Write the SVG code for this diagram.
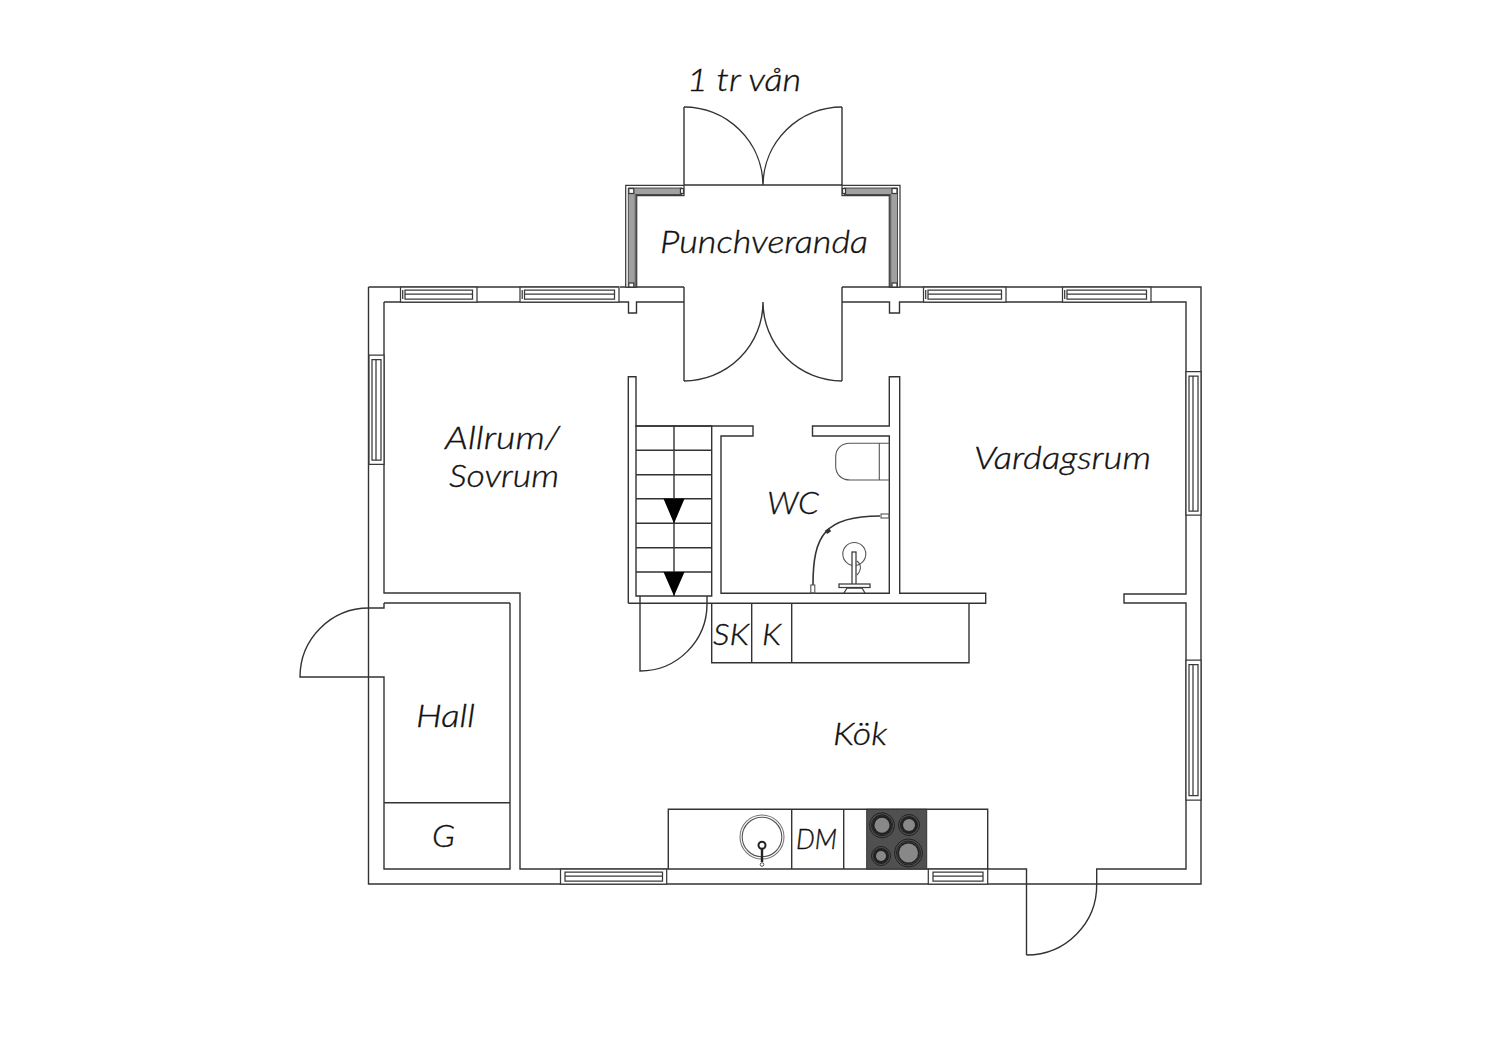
<svg xmlns="http://www.w3.org/2000/svg" width="1500" height="1060" viewBox="0 0 1500 1060">
<defs>
<style>
.l{fill:none;stroke:#333;stroke-width:1.4}
.w{fill:#fff;stroke:#3a3a3a;stroke-width:1.25}
.t{fill:none;stroke:#555;stroke-width:1.1}
.g{fill:#a0a0a0;stroke:#3a3a3a;stroke-width:.9}
text{font-family:"Lato","Liberation Sans",sans-serif;font-style:italic;font-weight:300;font-size:32px;fill:#111;stroke:#111;stroke-width:.35}
</style>
</defs>
<rect width="1500" height="1060" fill="#fff"/>
<g id="walls">
<path class="l" d="M368.500 287H619M368.500 287V884H1201V287H842M384 302V593H520V869H1026.500V955M384 603V608H369M384 302H628.500V313H636.500V302H684M842 302H889.500V313H899.500V302H1186V594H1124V603H1186V869H1096.700V884M510 603H384M510 603V869H384V677H369M384 802.700H510M684 287V381M842 287V381M684 107V185M842 107V185M684 185H842M620 287H684"/>
<path class="l" d="M628.300 603.300V376.700H636V426H753V436H721V593.300H889.300V436H812.500V426H889.300V376.700H899.700V593.300H985.700V603.300H628.300"/>
</g>
<g id="doors">
<path class="l" d="M684 107A79 79 0 0 1 763 185M842 107A79 79 0 0 0 763 185"/>
<path class="l" d="M684 381A79 79 0 0 0 763 302M842 381A79 79 0 0 1 763 302"/>
<path class="l" d="M640 596V671A67 67 0 0 0 707 604V596"/>
<path class="l" d="M369 608A69 69 0 0 0 300 677H369"/>
<path class="l" d="M1026.500 955A70 70 0 0 0 1096.700 884"/>
</g>
<g id="windows-top">
<path class="w" d="M400.500 287H477V302H400.500ZM405 290H472.500V299H405ZM405 294H472.500M402.700 290V299"/>
<path class="w" d="M520 287H619V302H520ZM524.500 290H614.500V299H524.500ZM524.500 294H614.500M522.200 290V299"/>
<path class="w" d="M923.500 287H1006V302H923.500ZM928 290H1001.500V299H928ZM928 294H1001.500M925.700 290V299"/>
<path class="w" d="M1062.500 287H1151V302H1062.500ZM1067 290H1146.500V299H1067ZM1067 294H1146.500M1064.700 290V299"/>
</g>
<g id="windows-side">
<path class="w" d="M369 355H384V464.300H369ZM372 359.500H381V460H372ZM376 359.500V460"/>
<path class="w" d="M1186 371.700H1201V515H1186ZM1189 376H1198V511H1189ZM1193 376V511"/>
<path class="w" d="M1186 660H1201V800H1186ZM1189 664.500H1198V795.500H1189ZM1193 664.500V795.500"/>
</g>
<g id="windows-bottom">
<path class="w" d="M560.500 869H666.700V884H560.500ZM565 872H662.500V881H565ZM565 876H662.500"/>
<path class="w" d="M928.300 869H987.700V884H928.300ZM933 872H983V881H933ZM933 876H983"/>
</g>
<g id="veranda-windows">
<path class="w" d="M625.700 287V185.300H684V195.700H636.700V287Z"/>
<path class="g" d="M628.300 287V188H682V194.500H635.300V287Z"/>
<path class="w" d="M900 287V185.300H842V195.700H889.300V287Z"/>
<path class="g" d="M897.500 287V188H844V194.500H890.700V287Z"/>
<rect class="w" x="628.800" y="188.500" width="5" height="5"/>
<rect class="w" x="892" y="188.500" width="5" height="5"/>
<rect class="w" x="680.500" y="188.500" width="3" height="5"/>
<rect class="w" x="842.500" y="188.500" width="3" height="5"/>
<rect class="w" x="628.800" y="283" width="5" height="4"/>
<rect class="w" x="892" y="283" width="5" height="4"/>
</g>
<g id="stairs">
<path class="l" d="M636 426H711.700V596H636ZM636 450.300H711.700M636 474.700H711.700M636 498.700H711.700M636 523.300H711.700M636 547.700H711.700M636 572H711.700M674 426V596"/>
<path fill="#000" d="M663.500 498.700H684.500L674 523.500ZM663.500 572H684.500L674 596Z"/>
</g>
<g id="toilet">
<path class="t" d="M889.300 443.300H850C841 443.300 835.700 449 835.700 457V466C835.700 474 841 480 850 480H889.300M879.300 443.300V480"/>
</g>
<g id="wc-fixtures">
<path fill="none" stroke="#333" stroke-width="1.600" d="M813 585C813 535 825 516 880 516"/>
<rect class="t" x="810.800" y="585" width="4" height="8"/>
<rect class="t" x="881" y="514" width="8" height="4"/>
<rect fill="#333" x="825.500" y="529" width="5" height="4" transform="rotate(-35 828 531)"/>
<circle class="t" cx="854.300" cy="554" r="11.500"/>
<path class="t" d="M857 561C863 566 860 572 857 575"/>
<rect class="w" x="852" y="552" width="4" height="37"/>
<rect class="w" x="839" y="584" width="31" height="3.500"/>
<path class="w" d="M844 593L847 588H862L865 593Z"/>
</g>
<g id="cabinets">
<path class="l" d="M711.700 603.300V662.700H969V603.300M751.700 603.300V662.700M791.700 603.300V662.700"/>
<path class="l" d="M668.300 869V809.300H987.700V869M791.700 809.300V869M843.700 809.300V869"/>
</g>
<g id="sink">
<circle fill="none" stroke="#777" stroke-width="1.100" cx="762" cy="837" r="22"/>
<circle fill="none" stroke="#555" stroke-width="1.100" cx="762" cy="837" r="19.800"/>
<circle fill="#fff" stroke="#222" stroke-width="2" cx="762" cy="845.300" r="3.500"/>
<rect fill="#222" x="760.800" y="849" width="2.400" height="13"/>
<circle fill="#fff" stroke="#555" cx="762" cy="864.500" r="1.800"/>
</g>
<g id="hob">
<rect x="866.700" y="809.300" width="60" height="59.700" fill="#505050" stroke="#333"/>
<g fill="none" stroke="#222">
<circle cx="882" cy="825.300" r="12.500"/><circle cx="909" cy="825" r="10.500"/><circle cx="881" cy="856" r="9.500"/><circle cx="908.500" cy="853" r="14"/><circle cx="908.500" cy="853" r="12"/><circle cx="882" cy="825.300" r="10.500"/>
</g>
<g fill="#222"><circle cx="882" cy="825.300" r="10"/><circle cx="909" cy="825" r="9"/><circle cx="881" cy="856" r="8"/><circle cx="908.500" cy="853" r="11"/></g>
<g fill="#888"><circle cx="882" cy="825.300" r="7.500"/><circle cx="909" cy="825" r="6"/><circle cx="881" cy="856" r="5"/><circle cx="908.500" cy="853" r="9.500"/></g>
</g>
<g id="labels">
<text x="687" y="91" textLength="114" lengthAdjust="spacingAndGlyphs">1 tr vån</text>
<text x="660" y="253" textLength="208" lengthAdjust="spacingAndGlyphs">Punchveranda</text>
<text x="445" y="449" textLength="115" lengthAdjust="spacingAndGlyphs">Allrum/</text>
<text x="449" y="487" textLength="110" lengthAdjust="spacingAndGlyphs">Sovrum</text>
<text x="974" y="469" textLength="177" lengthAdjust="spacingAndGlyphs">Vardagsrum</text>
<text x="767" y="514" textLength="52" lengthAdjust="spacingAndGlyphs">WC</text>
<text x="713" y="645" style="font-size:30px" textLength="36" lengthAdjust="spacingAndGlyphs">SK</text>
<text x="762" y="645" style="font-size:30px" textLength="19" lengthAdjust="spacingAndGlyphs">K</text>
<text x="833" y="745" textLength="54" lengthAdjust="spacingAndGlyphs">Kök</text>
<text x="416" y="727" textLength="59" lengthAdjust="spacingAndGlyphs">Hall</text>
<text x="432" y="847" textLength="23" lengthAdjust="spacingAndGlyphs">G</text>
<text x="796" y="849" style="font-size:27px" textLength="41" lengthAdjust="spacingAndGlyphs">DM</text>
</g>
</svg>
